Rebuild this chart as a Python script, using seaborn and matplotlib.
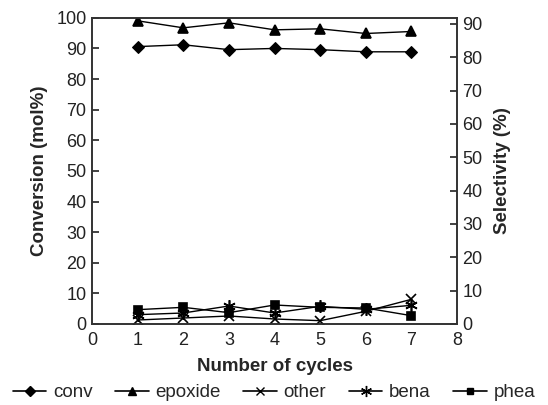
import matplotlib
matplotlib.use("Agg")
import matplotlib.pyplot as plt
import seaborn as sns
import pandas as pd
from matplotlib.lines import Line2D

cycles = [1, 2, 3, 4, 5, 6, 7]
conv = [90.6, 91.2, 89.6, 90.0, 89.6, 88.9, 88.9]
epoxide = [90.9, 88.8, 90.3, 88.2, 88.5, 87.1, 87.7]
other = [1.2, 1.8, 2.4, 1.5, 1.0, 3.8, 7.4]
bena = [2.8, 3.3, 5.4, 3.3, 5.3, 4.4, 5.6]
phea = [4.3, 5.0, 3.4, 5.7, 5.0, 4.8, 2.5]

x_ticks = [0, 1, 2, 3, 4, 5, 6, 7, 8]
left_ticks = [0, 10, 20, 30, 40, 50, 60, 70, 80, 90, 100]
right_ticks = [0, 10, 20, 30, 40, 50, 60, 70, 80, 90]

sns.set_theme(style="ticks")
plt.rcParams["font.family"] = ["Liberation Sans", "DejaVu Sans"]

fig, ax = plt.subplots(figsize=(5.48, 4.05), dpi=100)
fig.subplots_adjust(left=0.168, right=0.834, top=0.956, bottom=0.2)
ax2 = ax.twinx()

df = pd.DataFrame({"cycle": cycles, "conv": conv, "epoxide": epoxide,
                   "other": other, "bena": bena, "phea": phea})

line_kw = dict(color="black", linewidth=1.0, markeredgecolor="black")

sns.lineplot(data=df, x="cycle", y="conv", ax=ax, marker="D", markersize=6,
             **line_kw)
series = [("epoxide", "^", 7), ("other", "x", 7), ("bena", (6, 2, 0), 9),
          ("phea", "s", 6)]
for name, mk, ms in series:
    sns.lineplot(data=df, x="cycle", y=name, ax=ax2, marker=mk, markersize=ms,
                 markerfacecolor="black", markeredgewidth=1.2, **line_kw)

ax.set_xlim(0, 8)
ax.set_ylim(0, 100)
ax2.set_ylim(0, 91.8)
ax.set_xticks(x_ticks)
ax.set_yticks(left_ticks)
ax2.set_yticks(right_ticks)

for a in (ax, ax2):
    for s in a.spines.values():
        s.set_color("#333333")
        s.set_linewidth(1.2)
    a.tick_params(labelsize=13, colors="#222222")
ax.tick_params(axis="y", direction="in", length=5, width=1.2, pad=4)
ax2.tick_params(axis="y", direction="in", length=5, width=1.2, pad=4)
ax.tick_params(axis="x", length=0, pad=6)

ax.set_xlabel("Number of cycles", fontsize=13.5, fontweight="bold", labelpad=6)
ax.set_ylabel("Conversion (mol%)", fontsize=13.5, fontweight="bold", labelpad=6)
ax2.set_ylabel("Selectivity (%)", fontsize=13.5, fontweight="bold", labelpad=8)

names = ["conv", "epoxide", "other", "bena", "phea"]
markers = [("D", 5), ("^", 6), ("x", 6), ((6, 2, 0), 8), ("s", 5)]
handles = [Line2D([], [], color="black", linewidth=1.2, marker=m,
                  markersize=s, markerfacecolor="black",
                  markeredgecolor="black")
           for m, s in markers]
fig.legend(handles, names, loc="center", bbox_to_anchor=(0.5, 0.03),
           ncol=5, frameon=False, fontsize=13.5, handlelength=1.8,
           handletextpad=0.35, columnspacing=1.2, borderaxespad=0,
           borderpad=0)

fig.savefig("out.png", dpi=100)
